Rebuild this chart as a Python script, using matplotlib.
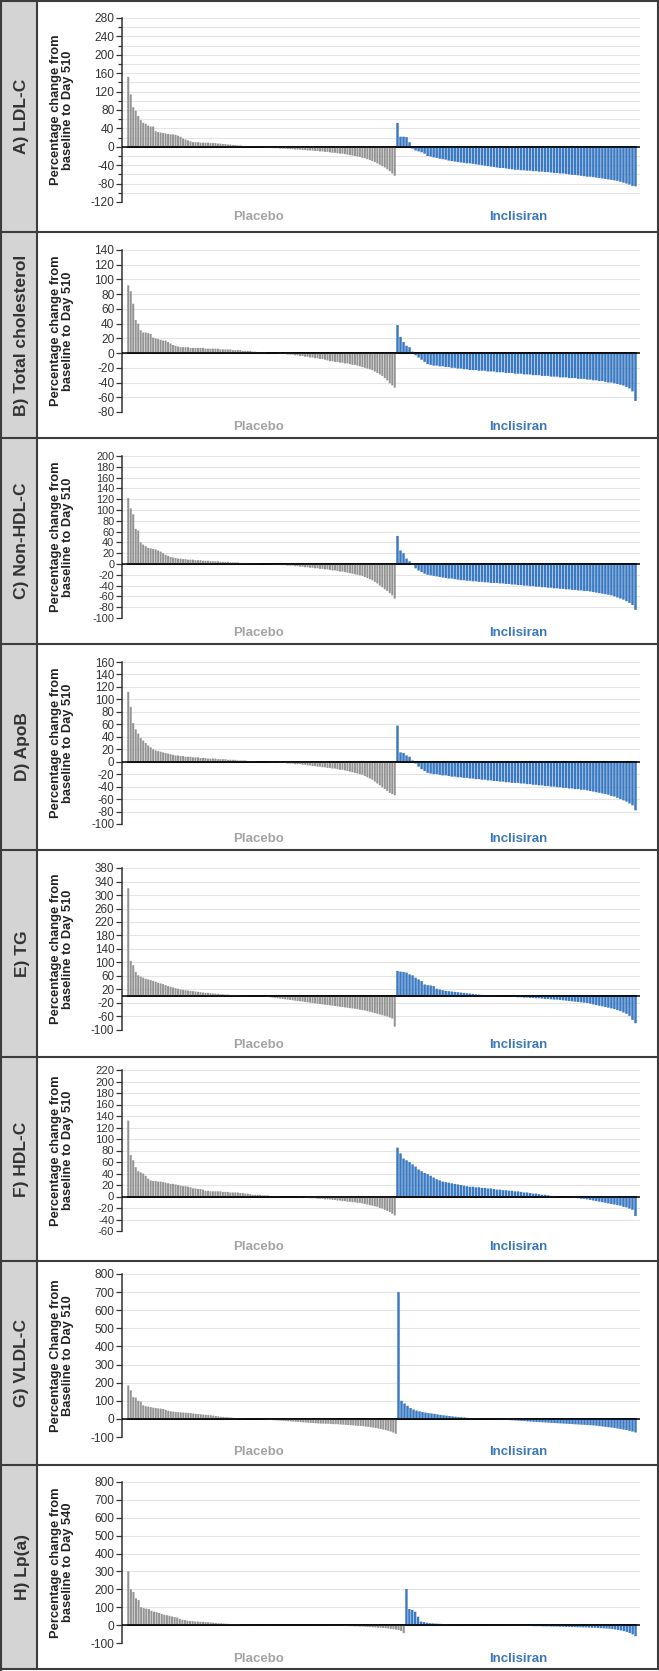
import numpy as np
import matplotlib
matplotlib.use("Agg")
import matplotlib.pyplot as plt
from matplotlib.patches import Rectangle
from matplotlib.lines import Line2D

plt.rcParams['font.family'] = ['Liberation Sans', 'DejaVu Sans']

# ---------------- data ----------------
groups = ["Placebo", "Inclisiran"]

A_name = "A) LDL-C"
A_ticks = list(range(-120, 281, 40))
A_placebo = [152, 114, 86, 78, 67, 58, 52, 50, 46, 44, 44,
             34, 32, 31, 30, 29, 28, 27, 27, 26,
             24, 22, 18, 16, 14, 12,
             10, 10, 10, 9, 9, 9, 9, 8, 8,
             8, 7, 7, 6, 6, 5, 5, 4,
             4, 3, 3, 2, 2, 1, 1, 1, 0,
             -1, -1, -1, -2, -2, -2, -3, -3, -3, -4, -4, -4, -5, -5, -5, -6, -6, -6, -7, -7,
             -8, -8, -8, -9, -9, -10, -10, -11, -11, -12,
             -13, -13, -14, -15, -15, -16, -17, -18, -19, -20, -21, -22, -24, -25, -27, -29,
             -31, -33, -36, -39, -42, -45, -49, -53, -58, -63]
A_inclisiran = [52, 22, 22, 21, 10,
                -4, -8, -10, -12, -15,
                -20, -21, -23, -24, -26, -27, -28, -30,
                -31, -32, -33, -34, -35, -36, -36, -37, -38, -39, -40,
                -41, -42, -43, -44, -45, -46, -46, -47, -48, -49, -50,
                -50, -51, -51, -52, -52, -53, -53, -54, -54, -55, -55, -56, -57, -57, -58, -58, -59,
                -60, -61, -61, -62, -63, -64, -65, -65, -66, -67, -68,
                -69, -70, -71, -72, -73, -74, -76,
                -78, -80, -82, -85, -86]

B_name = "B) Total cholesterol"
B_ticks = list(range(-80, 141, 20))
B_placebo = [92, 84, 67, 45, 40, 31, 28, 28, 27, 26, 21,
             20, 19, 18, 17, 17, 15, 13, 11, 10, 9, 8,
             8, 8, 8, 7, 7, 7, 7, 7, 7, 6, 6, 6, 6, 6, 6, 5, 5, 5, 5,
             5, 4, 4, 4, 4, 3, 3, 3, 3, 2, 2,
             1, 1, 1, 1, 0, 0, 0, 0, 0,
             -1, -1, -1, -2, -2, -2, -3, -3, -4, -4, -5, -5, -6, -6, -7, -7, -8, -8, -9, -10, -11,
             -11, -12, -12, -13, -13, -14, -14, -15, -16, -16, -17, -18, -19, -20, -21, -22,
             -23, -25, -27, -29, -31, -34, -37, -41, -44, -47]
B_inclisiran = [38, 22, 15, 10, 8, 2,
                -3, -6, -9, -12, -15,
                -16, -17, -17, -18, -18, -19, -19, -20, -20, -21,
                -21, -22, -22, -23, -23, -23, -24, -24, -24, -25, -25, -25, -26, -26, -26,
                -27, -27, -27, -28, -28, -28, -29, -29, -29, -30, -30, -30, -31, -31, -31,
                -32, -32, -32, -33, -33, -33, -34, -34, -34, -35, -35, -35, -36, -36, -37,
                -37, -38, -38, -39, -40, -40, -41, -42, -43, -44, -46, -48, -52, -65]

C_name = "C) Non-HDL-C"
C_ticks = list(range(-100, 201, 20))
C_placebo = [122, 103, 92, 65, 62, 40, 36, 33, 30, 29, 28,
             27, 25, 23, 20, 17, 15, 13, 12, 11, 10, 10,
             9, 9, 8, 8, 8, 7, 7, 7, 6, 6, 6, 5, 5, 5, 5, 4, 4, 4, 4,
             3, 3, 3, 3, 2, 2, 2, 2, 1, 1, 1,
             1, 0, 0, 0, 0, 0, -1, -1, -1,
             -2, -2, -2, -3, -3, -3, -4, -4, -5, -5, -6, -6, -7, -7, -8, -8, -9, -9, -10, -10, -11,
             -12, -12, -13, -14, -14, -15, -16, -17, -18, -19, -20, -21, -22, -24, -26, -28,
             -30, -33, -36, -40, -43, -47, -50, -54, -58, -64]
C_inclisiran = [52, 25, 20, 10, 5, -2,
                -8, -12, -15, -18, -20,
                -21, -22, -23, -24, -25, -26, -27, -27, -28, -29,
                -30, -30, -31, -31, -32, -32, -33, -33, -34, -34, -35, -35, -35, -36, -36,
                -37, -37, -38, -38, -39, -39, -40, -40, -41, -41, -42, -42, -43, -43, -44,
                -44, -45, -45, -46, -46, -47, -47, -48, -48, -49, -49, -50, -50, -51, -52,
                -53, -54, -55, -56, -57, -58, -60, -62, -64, -66, -69, -72, -76, -85]

D_name = "D) ApoB"
D_ticks = list(range(-100, 161, 20))
D_placebo = [112, 88, 62, 52, 45, 38, 34, 30, 26, 23, 20,
             18, 17, 16, 15, 14, 13, 12, 11, 10, 10, 9,
             9, 8, 8, 8, 7, 7, 7, 6, 6, 6, 5, 5, 5, 5, 4, 4, 4, 4, 3,
             3, 3, 3, 2, 2, 2, 2, 1, 1, 1, 1,
             0, 0, 0, 0, 0, -1, -1, -1, -1,
             -2, -2, -2, -3, -3, -3, -4, -4, -4, -5, -5, -6, -6, -7, -7, -8, -8, -9, -9, -10, -10,
             -11, -11, -12, -13, -13, -14, -15, -16, -17, -18, -19, -20, -21, -23, -25, -27,
             -29, -32, -35, -38, -41, -44, -47, -50, -52, -54]
D_inclisiran = [58, 15, 14, 10, 8, 2,
                -3, -8, -12, -15, -18,
                -19, -20, -20, -21, -22, -22, -23, -24, -24, -25,
                -25, -26, -26, -27, -27, -28, -28, -29, -29, -30, -30, -31, -31, -32, -32,
                -33, -33, -34, -34, -34, -35, -35, -36, -36, -37, -37, -38, -38, -39, -39,
                -40, -40, -41, -41, -42, -42, -43, -43, -44, -44, -45, -45, -46, -47, -48,
                -49, -50, -51, -52, -53, -55, -56, -58, -60, -62, -64, -67, -70, -78]

E_name = "E) TG"
E_ticks = list(range(-100, 381, 40))
E_placebo = [320, 105, 92, 72, 62, 58, 55, 52, 50, 48, 45,
             43, 40, 38, 36, 33, 30, 28, 26, 24, 22, 20,
             19, 18, 17, 16, 15, 14, 13, 12, 11, 10, 10, 9, 8, 8, 7, 6, 6, 5, 5,
             4, 4, 3, 3, 2, 2, 2, 1, 1, 1, 0,
             0, 0, 0, -1, -2, -3, -4, -5, -6,
             -7, -8, -9, -10, -11, -12, -13, -14, -15, -16, -17, -18, -19, -20, -21, -22, -23,
             -24, -25, -26, -27,
             -28, -29, -30, -31, -32, -33, -34, -35, -36, -37, -38, -40, -41, -42, -44, -46,
             -48, -50, -52, -54, -56, -58, -60, -63, -66, -90]
E_inclisiran = [75, 73, 72, 70, 65, 62, 55, 50, 45, 35, 33, 32, 30,
                22, 20, 18, 16, 15, 14, 13, 12, 11, 10, 9, 8, 7, 6, 5, 4, 3,
                2, 2, 1, 1, 0, 0, -1, -1, -2, -2, -3,
                -3, -4, -4, -5, -5, -6, -6, -7, -8, -8, -9, -10, -10, -11, -12,
                -13, -14, -15, -16, -17, -18, -19, -20, -22, -24, -26, -28,
                -30, -32, -34, -36, -38, -41, -44, -48, -52, -58, -70, -80]

F_name = "F) HDL-C"
F_ticks = list(range(-60, 221, 20))
F_placebo = [132, 72, 63, 51, 44, 42, 40, 36, 31, 28,
             27, 27, 26, 26, 25, 24, 23, 22, 22, 21, 20,
             19, 18, 18, 17, 16, 14, 14, 13, 13, 12,
             10, 10, 9, 9, 9, 9, 9, 8, 8, 8, 7,
             7, 7, 7, 6, 6, 5, 5, 4, 3, 3, 3, 3, 2,
             2, 2, 1, 1, 1, 1, 0, 0, 0, 0, 0, 0, 0, 0, -1,
             -1, -2, -2, -3, -3, -3, -4, -4, -4, -5, -5, -5, -6, -6, -7,
             -7, -8, -8, -9, -9, -10, -10, -11, -11, -12, -13, -14, -15, -16, -17, -18, -20,
             -21, -23, -25, -27, -30, -33]
F_inclisiran = [85, 75, 66, 63, 60, 56, 52, 47, 44, 41, 39, 36,
                33, 30, 28, 26, 25, 24, 23, 22, 21, 20, 19, 18, 17,
                17, 16, 16, 15, 15, 14, 14, 13, 12, 12, 11, 11, 10, 10, 9,
                9, 8, 7, 7, 6, 5, 5, 4, 3, 3, 2, 1, 1, 0, 0,
                0, -1, -1, -2, -2, -3, -4, -4, -5, -6, -7, -8, -9,
                -10, -11, -12, -13, -14, -15, -16, -18, -19, -21, -23, -34]

G_name = "G) VLDL-C"
G_ticks = list(range(-100, 801, 100))
G_placebo = [185, 158, 120, 118, 100, 95, 75, 70, 68, 65, 62,
             60, 58, 57, 55, 50, 45, 42, 40, 38, 37, 36,
             35, 34, 33, 32, 30, 28, 26, 25, 24, 22, 21, 20,
             18, 16, 14, 12, 11, 10, 9, 8, 6, 5, 4, 3,
             2, 1, 1, 0, 0, 0, -1, -2, -3,
             -4, -5, -6, -7, -8, -9, -10, -11, -12, -13, -14, -15, -16, -17, -18, -19, -20,
             -21, -22, -23, -24, -25, -26, -26, -27, -27, -28,
             -29, -29, -30, -31, -32, -33, -34, -35, -36, -37, -38, -39, -40, -42, -44, -46,
             -48, -50, -53, -56, -59, -62, -66, -70, -75, -82]
G_inclisiran = [700, 100, 85, 72, 60, 52, 46, 42, 38, 35, 32, 30, 28, 25, 22,
                20, 18, 16, 14, 12, 10, 9, 8, 6, 5, 4, 3, 2, 1, 0,
                0, -1, -2, -3, -4, -5, -6, -7, -8, -9, -10, -11, -12, -14, -15,
                -16, -17, -18, -19, -20, -21, -22, -23, -24, -25, -26, -27, -28, -29, -30,
                -31, -32, -33, -34, -35, -36, -38, -40, -42, -44, -46, -48, -50, -53, -56,
                -59, -62, -66, -70, -75]

H_name = "H) Lp(a)"
H_ticks = list(range(-100, 801, 100))
H_placebo = [300, 200, 185, 150, 140, 100, 95, 92, 90, 80, 75,
             72, 68, 62, 58, 55, 52, 48, 45, 42, 35, 30,
             28, 25, 23, 22, 20, 20, 19, 18, 17, 16, 15, 14, 12,
             10, 10, 9, 8, 7, 6, 5, 5, 4, 3, 3, 2, 2, 1, 1, 1,
             1, 1, 1, 1, 1, 1, 1, 0, 0, 0, 0, 0, 0, 0, 0, 0, 0, 0, 0, 0, 0, 0, 0,
             -1, -1, -1, -2,
             -2, -2, -3, -3, -4, -4, -5, -5, -6, -6, -7, -7, -8, -8, -9, -10, -11, -12, -13,
             -14, -15, -16, -17, -19, -21, -23, -25, -28, -33, -45]
H_inclisiran = [202, 90, 85, 75, 47, 20, 17, 13, 11, 10, 9, 8, 7, 6, 5,
                4, 3, 3, 2, 2, 1, 1, 1, 0, 0, 0, 0, 0, 0, -1,
                -1, -1, -2, -2, -2, -3, -3, -3, -4, -4, -4, -5, -5, -5, -6,
                -6, -6, -7, -7, -7, -8, -8, -8, -9, -9, -10, -10, -11, -11, -12,
                -12, -13, -13, -14, -15, -15, -16, -17, -18, -19, -20, -22, -24, -27, -30,
                -34, -38, -44, -52, -62]

ylab_510 = "Percentage change from\nbaseline to Day 510"
ylab_G = "Percentage Change from\nBaseline to Day 510"
ylab_H = "Percentage change from\nbaseline to Day 540"

# ---------------- layout ----------------
W, H = 659, 1671
fig = plt.figure(figsize=(W / 100, H / 100), dpi=100)

def fx(px):
    return px / W

def fy(py):
    return 1 - py / H

# (name, ylabel, ticks, minor, placebo, inclisiran, top, axtop, axbot, labely, bottom, split, tick fontsize)
panels = [
    (A_name, ylab_510, A_ticks, 20, A_placebo, A_inclisiran, 0, 18, 202, 217, 232, 396, 8.6),
    (B_name, ylab_510, B_ticks, None, B_placebo, B_inclisiran, 232, 250, 412, 427, 438, 396, 8.6),
    (C_name, ylab_510, C_ticks, None, C_placebo, C_inclisiran, 438, 456, 618, 633, 644, 396, 7.9),
    (D_name, ylab_510, D_ticks, None, D_placebo, D_inclisiran, 644, 662, 824, 839, 850, 396, 8.3),
    (E_name, ylab_510, E_ticks, None, E_placebo, E_inclisiran, 850, 868, 1030, 1045, 1057, 396, 8.4),
    (F_name, ylab_510, F_ticks, None, F_placebo, F_inclisiran, 1057, 1070, 1231, 1247, 1261, 396, 8.1),
    (G_name, ylab_G, G_ticks, None, G_placebo, G_inclisiran, 1261, 1274, 1437, 1452, 1465, 397, 8.6),
    (H_name, ylab_H, H_ticks, None, H_placebo, H_inclisiran, 1465, 1482, 1643, 1659, 1669, 405, 8.6),
]

frame_col = "#3c3c3c"
grey_bar = "#939393"
blue_bar = "#3b7ac2"
grid_col = "#e4e4e4"
tick_col = "#333333"

# left label column background
fig.add_artist(Rectangle((0, fy(1669)), fx(37), fy(0) - fy(1669), transform=fig.transFigure,
                         facecolor="#d4d4d4", edgecolor="none", zorder=0))

AX_L, AX_R = 122, 640
PL_L, IN_R = 127, 637

for (name, ylab, ticks, minor, plac, incl, top, at, ab, ly, bot, split, tfs) in panels:
    ymin, ymax = ticks[0], ticks[-1]
    ax = fig.add_axes([fx(AX_L), fy(ab), fx(AX_R) - fx(AX_L), fy(at) - fy(ab)])
    ax.set_xlim(0, 1)
    ax.set_ylim(ymin, ymax)
    ax.set_yticks(ticks)
    ax.set_yticklabels([str(t) for t in ticks], fontsize=tfs, color=tick_col)
    if minor:
        ax.set_yticks(list(range(ymin, ymax + 1, minor)), minor=True)
        ax.tick_params(axis='y', which='minor', length=3, width=0.9, color=tick_col)
        ax.yaxis.grid(True, which='minor', color=grid_col, lw=0.8)
    ax.yaxis.grid(True, which='major', color=grid_col, lw=0.8)
    ax.set_axisbelow(True)
    ax.set_xticks([])
    for s in ['top', 'right', 'bottom']:
        ax.spines[s].set_visible(False)
    ax.spines['left'].set_color(tick_col)
    ax.spines['left'].set_linewidth(1.1)
    ax.tick_params(axis='y', which='major', length=4, width=0.9, color=tick_col, pad=1.5)
    ax.patch.set_alpha(0)
    ax.axhline(0, color="black", lw=1.1, zorder=5)

    # bars: placebo
    axp = fig.add_axes([fx(PL_L), fy(ab), fx(split) - fx(PL_L), fy(at) - fy(ab)])
    axp.set_ylim(ymin, ymax)
    axp.set_xlim(-0.5, len(plac) - 0.5)
    axp.bar(np.arange(len(plac)), plac, width=0.8, color=grey_bar, edgecolor="none", snap=False)
    axp.axhline(0, color="black", lw=1.1, zorder=5)
    axp.axis("off")

    axi = fig.add_axes([fx(split), fy(ab), fx(IN_R) - fx(split), fy(at) - fy(ab)])
    axi.set_ylim(ymin, ymax)
    axi.set_xlim(-0.5, len(incl) - 0.5)
    axi.bar(np.arange(len(incl)), incl, width=0.82, color=blue_bar, edgecolor="none", snap=False)
    axi.axhline(0, color="black", lw=1.1, zorder=5)
    axi.axis("off")

    # texts
    yc = (at + ab) / 2
    fig.text(fx(62), fy(yc), ylab, rotation=90, ha="center", va="center",
             fontsize=9.3, fontweight="bold", color="#222222", linespacing=1.05)
    fig.text(fx(22), fy((top + bot) / 2), name, rotation=90, ha="center", va="center",
             fontsize=12.5, fontweight="bold", color="#333333")
    fig.text(fx(259), fy(ly), groups[0], ha="center", va="center",
             fontsize=9.5, fontweight="bold", color="#a3a3a3")
    fig.text(fx(518), fy(ly), groups[1], ha="center", va="center",
             fontsize=9.5, fontweight="bold", color="#3b78b8")

    # separator line at bottom of panel
    fig.add_artist(Line2D([0, 1], [fy(bot), fy(bot)], transform=fig.transFigure,
                          color=frame_col, lw=1.5))

# frame
fig.add_artist(Line2D([fx(0.75), fx(0.75)], [0, 1], transform=fig.transFigure, color=frame_col, lw=1.5))
fig.add_artist(Line2D([fx(657.5), fx(657.5)], [fy(1669), 1], transform=fig.transFigure, color=frame_col, lw=1.5))
fig.add_artist(Line2D([0, 1], [fy(0.75), fy(0.75)], transform=fig.transFigure, color=frame_col, lw=1.5))
fig.add_artist(Line2D([fx(37), fx(37)], [fy(1669), 1], transform=fig.transFigure, color=frame_col, lw=1.5))

fig.savefig("out.png", dpi=100, facecolor="white")
